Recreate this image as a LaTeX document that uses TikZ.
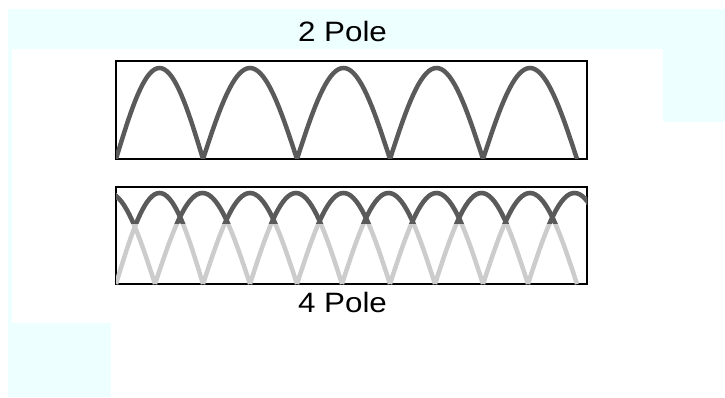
\documentclass[tikz,border=0pt]{standalone}
\usepackage{fontspec}
\setmainfont{Liberation Sans}
\usepackage{xcolor}
\usetikzlibrary{positioning}

\definecolor{bgcyan}{RGB}{238,255,255}
\definecolor{wavedark}{RGB}{90,90,90}
\definecolor{wavelight}{RGB}{204,204,204}
\newcommand{\stretchtext}[1]{\scalebox{1.12}[1]{#1}}

\begin{document}
\begin{tikzpicture}[
  x=1pt, y=-1pt,
  polebox/.style={draw, line width=2pt, minimum width=471pt, minimum height=#1, inner sep=0pt, outer sep=0pt},
  polelabel/.style={font=\fontsize{28}{30}\selectfont, inner sep=0pt},
  wave/.style={line width=4.5pt, draw=#1},
  bg/.style={fill=bgcyan}
]
  \useasboundingbox (0,0) rectangle (725,398);

  % background
  \fill[bg] (8,9) rectangle (725,49);
  \fill[bg] (663,49) rectangle (725,122);
  \fill[bg] (8,49) rectangle (12,323);
  \fill[bg] (8,323) rectangle (111,397);

  % boxes and labels
  \node[polebox=98pt] (box2) at (351.5,110) {};
  \node[polebox=97pt] (box4) at (351.5,235.5) {};
  \node[polelabel, above=19pt of box2, xshift=-9pt] (lbl2) {\stretchtext{2 Pole}};
  \node[polelabel, below=8pt of box4, xshift=-9pt] (lbl4) {\stretchtext{4 Pole}};

  % 2 pole waveform
  \begin{scope}
    \clip (box2.south west) rectangle (box2.north east);
    \foreach \a/\b in {116/203,203/297,297/390,390/483,483/577}
      \draw[wave=wavedark] plot[domain=0:180, samples=37] ({\a+(\b-\a)/180*\x}, {159-91*sin(\x)});
  \end{scope}

  % 4 pole waveform: both phases light, upper envelope dark
  \begin{scope}
    \clip (box4.south west) rectangle (box4.north east);
    \foreach \a/\b in {116/203,203/297,297/390,390/483,483/577,62/155,155/250,250/342,342/435,435/528,528/621}
      \draw[wave=wavelight] plot[domain=0:180, samples=37] ({\a+(\b-\a)/180*\x}, {284-91*sin(\x)});
    \clip (box4.north west) rectangle ++(471,36);
    \foreach \a/\b in {116/203,203/297,297/390,390/483,483/577,62/155,155/250,250/342,342/435,435/528,528/621}
      \draw[wave=wavedark] plot[domain=0:180, samples=37] ({\a+(\b-\a)/180*\x}, {284-91*sin(\x)});
  \end{scope}
\end{tikzpicture}
\end{document}
